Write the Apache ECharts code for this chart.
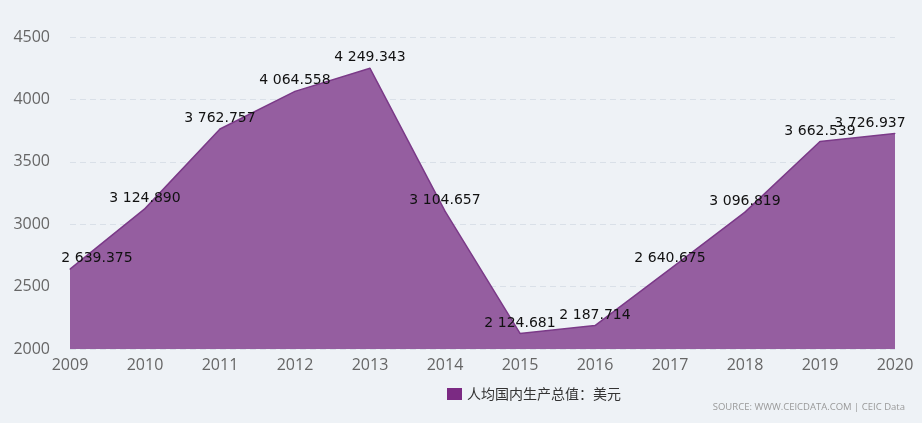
<!DOCTYPE html>
<html>
<head>
<meta charset="utf-8">
<style>
  html, body { margin: 0; padding: 0; background: #eef2f6; }
  #chart { width: 922px; height: 423px; }
</style>
<script src="https://cdn.jsdelivr.net/npm/echarts@6/dist/echarts.min.js"></script>
</head>
<body>
<div id="chart"></div>
<script>
var years = ['2009', '2010', '2011', '2012', '2013', '2014', '2015', '2016', '2017', '2018', '2019', '2020'];
var gdpPerCapita = [2639.375, 3124.890, 3762.757, 4064.558, 4249.343, 3104.657, 2124.681, 2187.714, 2640.675, 3096.819, 3662.539, 3726.937];
var seriesName = '人均国内生产总值：美元';
var sourceText = 'SOURCE: WWW.CEICDATA.COM | CEIC Data';

function fmt(v) {
  var parts = v.toFixed(3).split('.');
  return parts[0].replace(/\B(?=(\d{3})+(?!\d))/g, ' ') + '.' + parts[1];
}

// edge labels are pushed inside the plot like in the original
var seriesData = gdpPerCapita.map(function (v, i) {
  if (i === 0) return { value: v, label: { offset: [27, 0] } };
  if (i === gdpPerCapita.length - 1) return { value: v, label: { offset: [-25, 0] } };
  return v;
});

var chart = echarts.init(document.getElementById('chart'));
chart.setOption({
  backgroundColor: '#eef2f6',
  animation: false,
  grid: { left: 70, right: 27, top: 37, bottom: 74 },
  legend: {
    bottom: 17,
    left: 442,
    itemWidth: 15,
    itemHeight: 12,
    itemGap: 5,
    icon: 'rect',
    textStyle: { color: '#333', fontSize: 14, fontFamily: 'Noto Sans CJK SC' },
    data: [{ name: seriesName, itemStyle: { color: '#7b2a83', opacity: 1 } }]
  },
  graphic: [{
    type: 'text',
    right: 17,
    bottom: 11,
    style: { text: sourceText, fill: '#999', fontSize: 9.5, fontFamily: 'Open Sans' }
  }],
  xAxis: {
    type: 'category',
    boundaryGap: false,
    data: years,
    axisLine: { show: false },
    axisTick: { show: false },
    axisLabel: { color: '#666', fontSize: 16, margin: 8, fontFamily: 'Open Sans' }
  },
  yAxis: {
    type: 'value',
    min: 2000,
    max: 4500,
    interval: 500,
    axisLine: { show: false },
    axisTick: { show: false },
    axisLabel: { color: '#666', fontSize: 16, margin: 20, fontFamily: 'Open Sans', formatter: function (v) { return String(v); } },
    splitLine: { lineStyle: { color: '#d9e0e8', type: [6, 4] } }
  },
  series: [{
    name: seriesName,
    type: 'line',
    data: seriesData,
    smooth: false,
    symbol: 'circle',
    symbolSize: 1,
    showSymbol: true,
    lineStyle: { color: '#7b3a88', width: 1.5 },
    itemStyle: { color: '#7b3a88' },
    areaStyle: { color: '#955ea0', opacity: 1, origin: 'start' },
    label: {
      show: true,
      position: 'top',
      distance: 3,
      color: '#111',
      fontSize: 14,
      fontFamily: 'DejaVu Sans',
      formatter: function (p) { return fmt(p.value); }
    }
  }]
});
</script>
</body>
</html>
